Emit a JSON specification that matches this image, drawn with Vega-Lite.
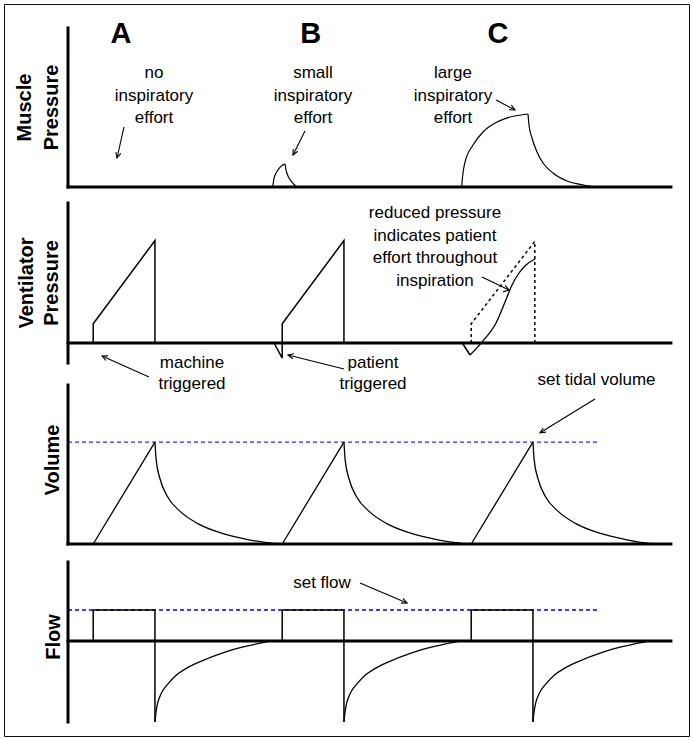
{
  "$schema": "https://vega.github.io/schema/vega-lite/v6.json",
  "width": 685,
  "height": 732,
  "padding": 4,
  "autosize": {"type": "none"},
  "config": {
    "view": {"stroke": "#111", "strokeWidth": 1},
    "text": {"font": "Liberation Sans", "color": "black"}
  },
  "datasets": {
    "mus": [
      {"seg": "Brise", "t": 3.249, "y": 0}, {"seg": "Brise", "t": 3.270, "y": 0.55}, {"seg": "Brise", "t": 3.302, "y": 0.86}, {"seg": "Brise", "t": 3.354, "y": 1.18}, {"seg": "Brise", "t": 3.408, "y": 1.38}, {"seg": "Brise", "t": 3.444, "y": 1.45},
      {"seg": "Bfall", "t": 3.444, "y": 1.45}, {"seg": "Bfall", "t": 3.460, "y": 1.07}, {"seg": "Bfall", "t": 3.492, "y": 0.69}, {"seg": "Bfall", "t": 3.540, "y": 0.38}, {"seg": "Bfall", "t": 3.587, "y": 0.16}, {"seg": "Bfall", "t": 3.635, "y": 0},
      {"seg": "Crise", "t": 6.249, "y": 0}, {"seg": "Crise", "t": 6.262, "y": 0.63}, {"seg": "Crise", "t": 6.302, "y": 1.57}, {"seg": "Crise", "t": 6.429, "y": 2.64}, {"seg": "Crise", "t": 6.587, "y": 3.46}, {"seg": "Crise", "t": 6.810, "y": 4.09}, {"seg": "Crise", "t": 7.016, "y": 4.40}, {"seg": "Crise", "t": 7.302, "y": 4.59},
      {"seg": "Cfall", "t": 7.302, "y": 4.59}, {"seg": "Cfall", "t": 7.317, "y": 3.90}, {"seg": "Cfall", "t": 7.365, "y": 3.08}, {"seg": "Cfall", "t": 7.444, "y": 2.20}, {"seg": "Cfall", "t": 7.540, "y": 1.51}, {"seg": "Cfall", "t": 7.698, "y": 0.88}, {"seg": "Cfall", "t": 7.921, "y": 0.38}, {"seg": "Cfall", "t": 8.127, "y": 0.16}, {"seg": "Cfall", "t": 8.35, "y": 0}
    ],
    "musArrows": [
      {"seg": "a1s", "t": 0.889, "y": 3.774}, {"seg": "a1s", "t": 0.778, "y": 1.824},
      {"seg": "a1h", "t": 0.838, "y": 2.113}, {"seg": "a1h", "t": 0.778, "y": 1.824}, {"seg": "a1h", "t": 0.760, "y": 2.195},
      {"seg": "a2s", "t": 3.762, "y": 3.522}, {"seg": "a2s", "t": 3.571, "y": 2.013},
      {"seg": "a2h", "t": 3.646, "y": 2.245}, {"seg": "a2h", "t": 3.571, "y": 2.013}, {"seg": "a2h", "t": 3.575, "y": 2.390},
      {"seg": "a3s", "t": 6.794, "y": 5.472}, {"seg": "a3s", "t": 7.095, "y": 4.843},
      {"seg": "a3h", "t": 7.038, "y": 5.145}, {"seg": "a3h", "t": 7.095, "y": 4.843}, {"seg": "a3h", "t": 7.000, "y": 4.862}
    ],
    "musAxes": [
      {"t": 0, "t2": 9.57, "y": 0, "y2": 0},
      {"t": 0, "t2": 0, "y": 0, "y2": 10}
    ],
    "musNotes": [
      {"label": "no\ninspiratory\neffort", "t": 1.365, "y": 6.855},
      {"label": "small\ninspiratory\neffort", "t": 3.889, "y": 6.855},
      {"label": "large\ninspiratory\neffort", "t": 6.111, "y": 6.855}
    ],
    "letters": [
      {"label": "A", "t": 0.841, "y": 9.06},
      {"label": "B", "t": 3.854, "y": 9.06},
      {"label": "C", "t": 6.825, "y": 9.06}
    ],
    "musTitle": [
      {"label": "Muscle", "t": -0.683, "y": 5},
      {"label": "Pressure", "t": -0.254, "y": 5}
    ],
    "venLin": [
      {"seg": "A", "t": 0.4, "y": 0}, {"seg": "A", "t": 0.4, "y": 1.2}, {"seg": "A", "t": 1.38, "y": 6.4}, {"seg": "A", "t": 1.38, "y": 0},
      {"seg": "B", "t": 3.27, "y": 0}, {"seg": "B", "t": 3.40, "y": -0.94}, {"seg": "B", "t": 3.40, "y": 1.2}, {"seg": "B", "t": 4.38, "y": 6.4}, {"seg": "B", "t": 4.38, "y": 0},
      {"seg": "Cdip", "t": 6.259, "y": 0}, {"seg": "Cdip", "t": 6.381, "y": -0.75}
    ],
    "venDash": [
      {"seg": "Cd", "t": 6.4, "y": 0}, {"seg": "Cd", "t": 6.4, "y": 1.2}, {"seg": "Cd", "t": 7.41, "y": 6.35}, {"seg": "Cd", "t": 7.41, "y": 0}
    ],
    "venMono": [
      {"seg": "Crise", "t": 6.381, "y": -0.75}, {"seg": "Crise", "t": 6.571, "y": 0.06}, {"seg": "Crise", "t": 6.794, "y": 1.25}, {"seg": "Crise", "t": 6.937, "y": 2.56}, {"seg": "Crise", "t": 7.048, "y": 3.625}, {"seg": "Crise", "t": 7.159, "y": 4.375}, {"seg": "Crise", "t": 7.270, "y": 4.875}, {"seg": "Crise", "t": 7.413, "y": 5.25}
    ],
    "venArrows": [
      {"seg": "a4s", "t": 6.571, "y": 4.125}, {"seg": "a4s", "t": 7.0, "y": 3.3125},
      {"seg": "a4h", "t": 6.940, "y": 3.6}, {"seg": "a4h", "t": 7.0, "y": 3.3125}, {"seg": "a4h", "t": 6.905, "y": 3.194},
      {"seg": "a5s", "t": 1.286, "y": -2.125}, {"seg": "a5s", "t": 0.540, "y": -0.8125},
      {"seg": "a5h", "t": 0.602, "y": -1.094}, {"seg": "a5h", "t": 0.540, "y": -0.8125}, {"seg": "a5h", "t": 0.635, "y": -0.806},
      {"seg": "a6s", "t": 4.381, "y": -1.625}, {"seg": "a6s", "t": 3.492, "y": -0.75},
      {"seg": "a6h", "t": 3.567, "y": -0.981}, {"seg": "a6h", "t": 3.492, "y": -0.75}, {"seg": "a6h", "t": 3.586, "y": -0.675}
    ],
    "venAxes": [
      {"t": 0, "t2": 9.57, "y": 0, "y2": 0},
      {"t": 0, "t2": 0, "y": -1.25, "y2": 8.75}
    ],
    "venNote": [
      {"label": "reduced pressure\nindicates patient\neffort throughout\ninspiration", "t": 5.825, "y": 7.81}
    ],
    "trigNotes": [
      {"label": "machine\ntriggered", "t": 1.968, "y": -1.5625},
      {"label": "patient\ntriggered", "t": 4.841, "y": -1.5625}
    ],
    "venTitle": [
      {"label": "Ventilator", "t": -0.651, "y": 3.75},
      {"label": "Pressure", "t": -0.254, "y": 3.75}
    ],
    "volRef": [{"t": 0, "t2": 8.41, "y": 500}],
    "volLin": [
      {"seg": "A", "t": 0.4, "y": 0}, {"seg": "A", "t": 1.38, "y": 500},
      {"seg": "B", "t": 3.4, "y": 0}, {"seg": "B", "t": 4.38, "y": 500},
      {"seg": "C", "t": 6.4, "y": 0}, {"seg": "C", "t": 7.38, "y": 500}
    ],
    "volMono": [
      {"seg": "A", "t": 1.38, "y": 500}, {"seg": "A", "t": 1.40, "y": 410}, {"seg": "A", "t": 1.46, "y": 320}, {"seg": "A", "t": 1.58, "y": 232}, {"seg": "A", "t": 1.78, "y": 160}, {"seg": "A", "t": 2.06, "y": 100}, {"seg": "A", "t": 2.45, "y": 52}, {"seg": "A", "t": 2.85, "y": 22}, {"seg": "A", "t": 3.15, "y": 7}, {"seg": "A", "t": 3.40, "y": 0},
      {"seg": "B", "t": 4.38, "y": 500}, {"seg": "B", "t": 4.40, "y": 410}, {"seg": "B", "t": 4.46, "y": 320}, {"seg": "B", "t": 4.58, "y": 232}, {"seg": "B", "t": 4.78, "y": 160}, {"seg": "B", "t": 5.06, "y": 100}, {"seg": "B", "t": 5.45, "y": 52}, {"seg": "B", "t": 5.85, "y": 22}, {"seg": "B", "t": 6.15, "y": 7}, {"seg": "B", "t": 6.40, "y": 0},
      {"seg": "C", "t": 7.38, "y": 500}, {"seg": "C", "t": 7.40, "y": 410}, {"seg": "C", "t": 7.46, "y": 320}, {"seg": "C", "t": 7.58, "y": 232}, {"seg": "C", "t": 7.78, "y": 160}, {"seg": "C", "t": 8.06, "y": 100}, {"seg": "C", "t": 8.45, "y": 52}, {"seg": "C", "t": 8.85, "y": 22}, {"seg": "C", "t": 9.12, "y": 7}, {"seg": "C", "t": 9.35, "y": 0}
    ],
    "volArrows": [
      {"seg": "a7s", "t": 8.365, "y": 711.5}, {"seg": "a7s", "t": 7.492, "y": 545.6},
      {"seg": "a7h", "t": 7.587, "y": 549}, {"seg": "a7h", "t": 7.492, "y": 545.6}, {"seg": "a7h", "t": 7.544, "y": 569.2}
    ],
    "volAxes": [
      {"t": 0, "t2": 9.57, "y": 0, "y2": 0},
      {"t": 0, "t2": 0, "y": 0, "y2": 780}
    ],
    "volNote": [{"label": "set tidal volume", "t": 8.389, "y": 780}],
    "volTitle": [{"label": "Volume", "t": -0.238, "y": 412}],
    "flowRef": [{"t": 0, "t2": 8.41, "y": 60}],
    "flowLin": [
      {"seg": "A", "t": 0.4, "y": 0}, {"seg": "A", "t": 0.4, "y": 60}, {"seg": "A", "t": 1.38, "y": 60}, {"seg": "A", "t": 1.38, "y": -157},
      {"seg": "B", "t": 3.4, "y": 0}, {"seg": "B", "t": 3.4, "y": 60}, {"seg": "B", "t": 4.38, "y": 60}, {"seg": "B", "t": 4.38, "y": -157},
      {"seg": "C", "t": 6.4, "y": 0}, {"seg": "C", "t": 6.4, "y": 60}, {"seg": "C", "t": 7.38, "y": 60}, {"seg": "C", "t": 7.38, "y": -157}
    ],
    "flowMono": [
      {"seg": "A", "t": 1.38, "y": -157}, {"seg": "A", "t": 1.395, "y": -140}, {"seg": "A", "t": 1.42, "y": -122}, {"seg": "A", "t": 1.46, "y": -107}, {"seg": "A", "t": 1.51, "y": -95}, {"seg": "A", "t": 1.58, "y": -84}, {"seg": "A", "t": 1.73, "y": -65}, {"seg": "A", "t": 1.88, "y": -53}, {"seg": "A", "t": 2.08, "y": -41}, {"seg": "A", "t": 2.48, "y": -22}, {"seg": "A", "t": 2.88, "y": -9}, {"seg": "A", "t": 3.23, "y": 0},
      {"seg": "B", "t": 4.38, "y": -157}, {"seg": "B", "t": 4.395, "y": -140}, {"seg": "B", "t": 4.42, "y": -122}, {"seg": "B", "t": 4.46, "y": -107}, {"seg": "B", "t": 4.51, "y": -95}, {"seg": "B", "t": 4.58, "y": -84}, {"seg": "B", "t": 4.73, "y": -65}, {"seg": "B", "t": 4.88, "y": -53}, {"seg": "B", "t": 5.08, "y": -41}, {"seg": "B", "t": 5.48, "y": -22}, {"seg": "B", "t": 5.88, "y": -9}, {"seg": "B", "t": 6.23, "y": 0},
      {"seg": "C", "t": 7.38, "y": -157}, {"seg": "C", "t": 7.395, "y": -140}, {"seg": "C", "t": 7.42, "y": -122}, {"seg": "C", "t": 7.46, "y": -107}, {"seg": "C", "t": 7.51, "y": -95}, {"seg": "C", "t": 7.58, "y": -84}, {"seg": "C", "t": 7.73, "y": -65}, {"seg": "C", "t": 7.88, "y": -53}, {"seg": "C", "t": 8.08, "y": -41}, {"seg": "C", "t": 8.48, "y": -22}, {"seg": "C", "t": 8.88, "y": -9}, {"seg": "C", "t": 9.23, "y": 0}
    ],
    "flowArrows": [
      {"seg": "a8s", "t": 4.635, "y": 112.4}, {"seg": "a8s", "t": 5.381, "y": 73.6},
      {"seg": "a8h", "t": 5.317, "y": 82.4}, {"seg": "a8h", "t": 5.381, "y": 73.6}, {"seg": "a8h", "t": 5.286, "y": 73.3}
    ],
    "flowAxes": [
      {"t": 0, "t2": 9.57, "y": 0, "y2": 0},
      {"t": 0, "t2": 0, "y": -157, "y2": 153}
    ],
    "flowNote": [{"label": "set flow", "t": 4.032, "y": 102.7}],
    "flowTitle": [{"label": "Flow", "t": -0.23, "y": 7.75}]
  },
  "encoding": {
    "x": {"field": "t", "type": "quantitative", "scale": {"domain": [-1.016, 9.857], "nice": false, "zero": false}, "axis": null}
  },
  "resolve": {"scale": {"y": "independent"}},
  "layer": [
    {
      "layer": [
        {"data": {"name": "mus"}, "mark": {"type": "line", "interpolate": "monotone", "color": "black", "strokeWidth": 1.2},
         "encoding": {"y": {"field": "y", "type": "quantitative", "scale": {"domain": [0, 10], "range": [183, 24], "nice": false, "zero": false}, "axis": null}, "detail": {"field": "seg"}, "order": {"value": null}}},
        {"data": {"name": "musArrows"}, "mark": {"type": "line", "color": "black", "strokeWidth": 1.1},
         "encoding": {"y": {"field": "y", "type": "quantitative", "scale": {"domain": [0, 10], "range": [183, 24], "nice": false, "zero": false}, "axis": null}, "detail": {"field": "seg"}, "order": {"value": null}}},
        {"data": {"name": "musAxes"}, "mark": {"type": "rule", "color": "black", "strokeWidth": 3, "strokeCap": "square"},
         "encoding": {"y": {"field": "y", "type": "quantitative", "scale": {"domain": [0, 10], "range": [183, 24], "nice": false, "zero": false}, "axis": null}, "x2": {"field": "t2"}, "y2": {"field": "y2"}}},
        {"data": {"name": "musNotes"}, "mark": {"type": "text", "fontSize": 17, "align": "center", "baseline": "alphabetic", "lineBreak": "\n", "lineHeight": 22.5},
         "encoding": {"y": {"field": "y", "type": "quantitative", "scale": {"domain": [0, 10], "range": [183, 24], "nice": false, "zero": false}, "axis": null}, "text": {"field": "label"}}},
        {"data": {"name": "letters"}, "mark": {"type": "text", "fontSize": 29, "fontWeight": "bold", "align": "center", "baseline": "alphabetic"},
         "encoding": {"y": {"field": "y", "type": "quantitative", "scale": {"domain": [0, 10], "range": [183, 24], "nice": false, "zero": false}, "axis": null}, "text": {"field": "label"}}},
        {"data": {"name": "musTitle"}, "mark": {"type": "text", "fontSize": 20, "fontWeight": "bold", "align": "center", "baseline": "middle", "angle": 270},
         "encoding": {"y": {"field": "y", "type": "quantitative", "scale": {"domain": [0, 10], "range": [183, 24], "nice": false, "zero": false}, "axis": null}, "text": {"field": "label"}}}
      ]
    },
    {
      "layer": [
        {"data": {"name": "venLin"}, "mark": {"type": "line", "color": "black", "strokeWidth": 1.5},
         "encoding": {"y": {"field": "y", "type": "quantitative", "scale": {"domain": [-1.25, 8.75], "range": [359, 199], "nice": false, "zero": false}, "axis": null}, "detail": {"field": "seg"}, "order": {"value": null}}},
        {"data": {"name": "venDash"}, "mark": {"type": "line", "color": "black", "strokeWidth": 1.5, "strokeDash": [3, 3]},
         "encoding": {"y": {"field": "y", "type": "quantitative", "scale": {"domain": [-1.25, 8.75], "range": [359, 199], "nice": false, "zero": false}, "axis": null}, "detail": {"field": "seg"}, "order": {"value": null}}},
        {"data": {"name": "venMono"}, "mark": {"type": "line", "interpolate": "monotone", "color": "black", "strokeWidth": 1.3},
         "encoding": {"y": {"field": "y", "type": "quantitative", "scale": {"domain": [-1.25, 8.75], "range": [359, 199], "nice": false, "zero": false}, "axis": null}, "detail": {"field": "seg"}, "order": {"value": null}}},
        {"data": {"name": "venArrows"}, "mark": {"type": "line", "color": "black", "strokeWidth": 1.1},
         "encoding": {"y": {"field": "y", "type": "quantitative", "scale": {"domain": [-1.25, 8.75], "range": [359, 199], "nice": false, "zero": false}, "axis": null}, "detail": {"field": "seg"}, "order": {"value": null}}},
        {"data": {"name": "venAxes"}, "mark": {"type": "rule", "color": "black", "strokeWidth": 3, "strokeCap": "square"},
         "encoding": {"y": {"field": "y", "type": "quantitative", "scale": {"domain": [-1.25, 8.75], "range": [359, 199], "nice": false, "zero": false}, "axis": null}, "x2": {"field": "t2"}, "y2": {"field": "y2"}}},
        {"data": {"name": "venNote"}, "mark": {"type": "text", "fontSize": 17, "align": "center", "baseline": "alphabetic", "lineBreak": "\n", "lineHeight": 22.7},
         "encoding": {"y": {"field": "y", "type": "quantitative", "scale": {"domain": [-1.25, 8.75], "range": [359, 199], "nice": false, "zero": false}, "axis": null}, "text": {"field": "label"}}},
        {"data": {"name": "trigNotes"}, "mark": {"type": "text", "fontSize": 17, "align": "center", "baseline": "alphabetic", "lineBreak": "\n", "lineHeight": 21},
         "encoding": {"y": {"field": "y", "type": "quantitative", "scale": {"domain": [-1.25, 8.75], "range": [359, 199], "nice": false, "zero": false}, "axis": null}, "text": {"field": "label"}}},
        {"data": {"name": "venTitle"}, "mark": {"type": "text", "fontSize": 20, "fontWeight": "bold", "align": "center", "baseline": "middle", "angle": 270},
         "encoding": {"y": {"field": "y", "type": "quantitative", "scale": {"domain": [-1.25, 8.75], "range": [359, 199], "nice": false, "zero": false}, "axis": null}, "text": {"field": "label"}}}
      ]
    },
    {
      "layer": [
        {"data": {"name": "volRef"}, "mark": {"type": "rule", "color": "#2a2aff", "strokeWidth": 1.3, "strokeDash": [4, 3]},
         "encoding": {"y": {"field": "y", "type": "quantitative", "scale": {"domain": [0, 780], "range": [540, 381], "nice": false, "zero": false}, "axis": null}, "x2": {"field": "t2"}}},
        {"data": {"name": "volLin"}, "mark": {"type": "line", "color": "black", "strokeWidth": 1.3},
         "encoding": {"y": {"field": "y", "type": "quantitative", "scale": {"domain": [0, 780], "range": [540, 381], "nice": false, "zero": false}, "axis": null}, "detail": {"field": "seg"}, "order": {"value": null}}},
        {"data": {"name": "volMono"}, "mark": {"type": "line", "interpolate": "monotone", "color": "black", "strokeWidth": 1.3},
         "encoding": {"y": {"field": "y", "type": "quantitative", "scale": {"domain": [0, 780], "range": [540, 381], "nice": false, "zero": false}, "axis": null}, "detail": {"field": "seg"}, "order": {"value": null}}},
        {"data": {"name": "volArrows"}, "mark": {"type": "line", "color": "black", "strokeWidth": 1.1},
         "encoding": {"y": {"field": "y", "type": "quantitative", "scale": {"domain": [0, 780], "range": [540, 381], "nice": false, "zero": false}, "axis": null}, "detail": {"field": "seg"}, "order": {"value": null}}},
        {"data": {"name": "volAxes"}, "mark": {"type": "rule", "color": "black", "strokeWidth": 3, "strokeCap": "square"},
         "encoding": {"y": {"field": "y", "type": "quantitative", "scale": {"domain": [0, 780], "range": [540, 381], "nice": false, "zero": false}, "axis": null}, "x2": {"field": "t2"}, "y2": {"field": "y2"}}},
        {"data": {"name": "volNote"}, "mark": {"type": "text", "fontSize": 17, "align": "center", "baseline": "alphabetic"},
         "encoding": {"y": {"field": "y", "type": "quantitative", "scale": {"domain": [0, 780], "range": [540, 381], "nice": false, "zero": false}, "axis": null}, "text": {"field": "label"}}},
        {"data": {"name": "volTitle"}, "mark": {"type": "text", "fontSize": 20, "fontWeight": "bold", "align": "center", "baseline": "middle", "angle": 270},
         "encoding": {"y": {"field": "y", "type": "quantitative", "scale": {"domain": [0, 780], "range": [540, 381], "nice": false, "zero": false}, "axis": null}, "text": {"field": "label"}}}
      ]
    },
    {
      "layer": [
        {"data": {"name": "flowRef"}, "mark": {"type": "rule", "color": "#0000e0", "strokeWidth": 1.3, "strokeDash": [4, 3]},
         "encoding": {"y": {"field": "y", "type": "quantitative", "scale": {"domain": [-157, 153], "range": [718, 558], "nice": false, "zero": false}, "axis": null}, "x2": {"field": "t2"}}},
        {"data": {"name": "flowLin"}, "mark": {"type": "line", "color": "black", "strokeWidth": 1.5},
         "encoding": {"y": {"field": "y", "type": "quantitative", "scale": {"domain": [-157, 153], "range": [718, 558], "nice": false, "zero": false}, "axis": null}, "detail": {"field": "seg"}, "order": {"value": null}}},
        {"data": {"name": "flowMono"}, "mark": {"type": "line", "interpolate": "monotone", "color": "black", "strokeWidth": 1.3},
         "encoding": {"y": {"field": "y", "type": "quantitative", "scale": {"domain": [-157, 153], "range": [718, 558], "nice": false, "zero": false}, "axis": null}, "detail": {"field": "seg"}, "order": {"value": null}}},
        {"data": {"name": "flowArrows"}, "mark": {"type": "line", "color": "black", "strokeWidth": 1.1},
         "encoding": {"y": {"field": "y", "type": "quantitative", "scale": {"domain": [-157, 153], "range": [718, 558], "nice": false, "zero": false}, "axis": null}, "detail": {"field": "seg"}, "order": {"value": null}}},
        {"data": {"name": "flowAxes"}, "mark": {"type": "rule", "color": "black", "strokeWidth": 3, "strokeCap": "square"},
         "encoding": {"y": {"field": "y", "type": "quantitative", "scale": {"domain": [-157, 153], "range": [718, 558], "nice": false, "zero": false}, "axis": null}, "x2": {"field": "t2"}, "y2": {"field": "y2"}}},
        {"data": {"name": "flowNote"}, "mark": {"type": "text", "fontSize": 17, "align": "center", "baseline": "alphabetic"},
         "encoding": {"y": {"field": "y", "type": "quantitative", "scale": {"domain": [-157, 153], "range": [718, 558], "nice": false, "zero": false}, "axis": null}, "text": {"field": "label"}}},
        {"data": {"name": "flowTitle"}, "mark": {"type": "text", "fontSize": 20, "fontWeight": "bold", "align": "center", "baseline": "middle", "angle": 270},
         "encoding": {"y": {"field": "y", "type": "quantitative", "scale": {"domain": [-157, 153], "range": [718, 558], "nice": false, "zero": false}, "axis": null}, "text": {"field": "label"}}}
      ]
    }
  ]
}
